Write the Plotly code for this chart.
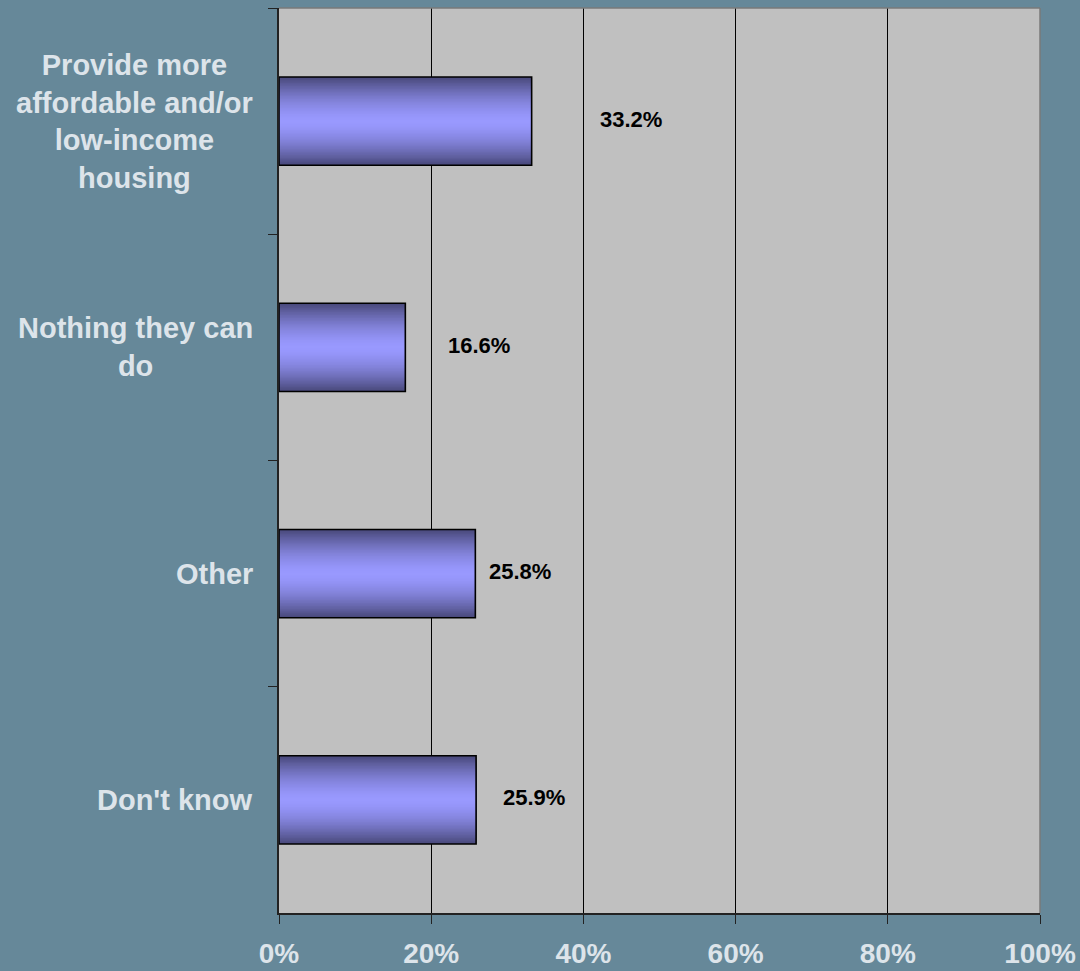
import plotly.graph_objects as go

# ---- data ----
categories = [
    "Provide more<br>affordable and/or<br>low-income<br>housing",
    "Nothing they can<br>do",
    "Other",
    "Don't know",
]
values = [0.332, 0.166, 0.258, 0.259]
value_labels = ["33.2%", "16.6%", "25.8%", "25.9%"]
x_ticks = [0, 0.2, 0.4, 0.6, 0.8, 1.0]
x_tick_text = ["0%", "20%", "40%", "60%", "80%", "100%"]

# ---- style ----
label_gap_px = [66, 41, 12, 25]
BG = "#668899"
PLOT_BG = "#C0C0C0"
LIGHT_TEXT = "#DDE4EA"
BAR_W = 0.39
DARK = (74, 74, 124)
LIGHT = (153, 153, 255)
FONT = "Liberation Sans, Arial, sans-serif"

fig = go.Figure()

# gradient via overlaid bars of decreasing thickness
N = 30
for k in range(N):
    d = 1 - k / N  # relative half-thickness (1 = edge)
    f = d ** 1.6
    col = tuple(round(LIGHT[i] + (DARK[i] - LIGHT[i]) * f) for i in range(3))
    fig.add_trace(go.Bar(
        y=categories, x=values, orientation="h",
        width=BAR_W * d,
        marker=dict(color="rgb(%d,%d,%d)" % col, line=dict(width=0)),
        hoverinfo="skip", showlegend=False,
    ))

# outline
fig.add_trace(go.Bar(
    y=categories, x=values, orientation="h", width=BAR_W,
    marker=dict(color="rgba(0,0,0,0)", line=dict(color="#000000", width=1.6)),
    showlegend=False,
))

# value labels
for cat, v, t, g in zip(categories, values, value_labels, label_gap_px):
    fig.add_annotation(
        x=v, y=cat, xref="x", yref="y", text=t, showarrow=False,
        xanchor="left", xshift=g, yshift=2,
        font=dict(family=FONT, size=22, color="#000000", weight="bold"),
    )

# category labels (centered lines, right-aligned block)
for cat in categories:
    fig.add_annotation(
        x=0, y=cat, xref="paper", yref="y", text=cat, showarrow=False,
        xanchor="right", xshift=-24, align="center",
        font=dict(family=FONT, size=29, color=LIGHT_TEXT, weight="bold"),
    )

# top & right border
fig.add_shape(type="line", xref="paper", yref="paper", x0=0, x1=1, y0=1, y1=1,
              line=dict(color="#7a7a7a", width=1.5), layer="above")
fig.add_shape(type="line", xref="paper", yref="paper", x0=1, x1=1, y0=0, y1=1,
              line=dict(color="#7a7a7a", width=1.5), layer="above")

fig.update_layout(
    width=1080, height=971,
    paper_bgcolor=BG, plot_bgcolor=PLOT_BG,
    barmode="overlay",
    margin=dict(l=279, r=40, t=8, b=58, autoexpand=False),
    font=dict(family=FONT),
    xaxis=dict(
        range=[0, 1], tickvals=x_ticks, ticktext=x_tick_text,
        showgrid=True, gridcolor="#000000", gridwidth=1,
        ticks="outside", ticklen=9, tickcolor="#222222", tickwidth=1.2,
        showline=True, linecolor="#222222", linewidth=1.5,
        zeroline=False, ticklabelstandoff=6, automargin=False,
        tickfont=dict(family=FONT, size=28, color=LIGHT_TEXT, weight="bold"),
        fixedrange=True,
    ),
    yaxis=dict(
        categoryorder="array", categoryarray=categories,
        autorange="reversed", tickson="boundaries",
        ticks="outside", ticklen=9, tickcolor="#222222", tickwidth=1.2,
        showticklabels=False, showgrid=False, automargin=False,
        showline=True, linecolor="#222222", linewidth=1.5,
        fixedrange=True,
    ),
)

fig.write_html("out.html")
